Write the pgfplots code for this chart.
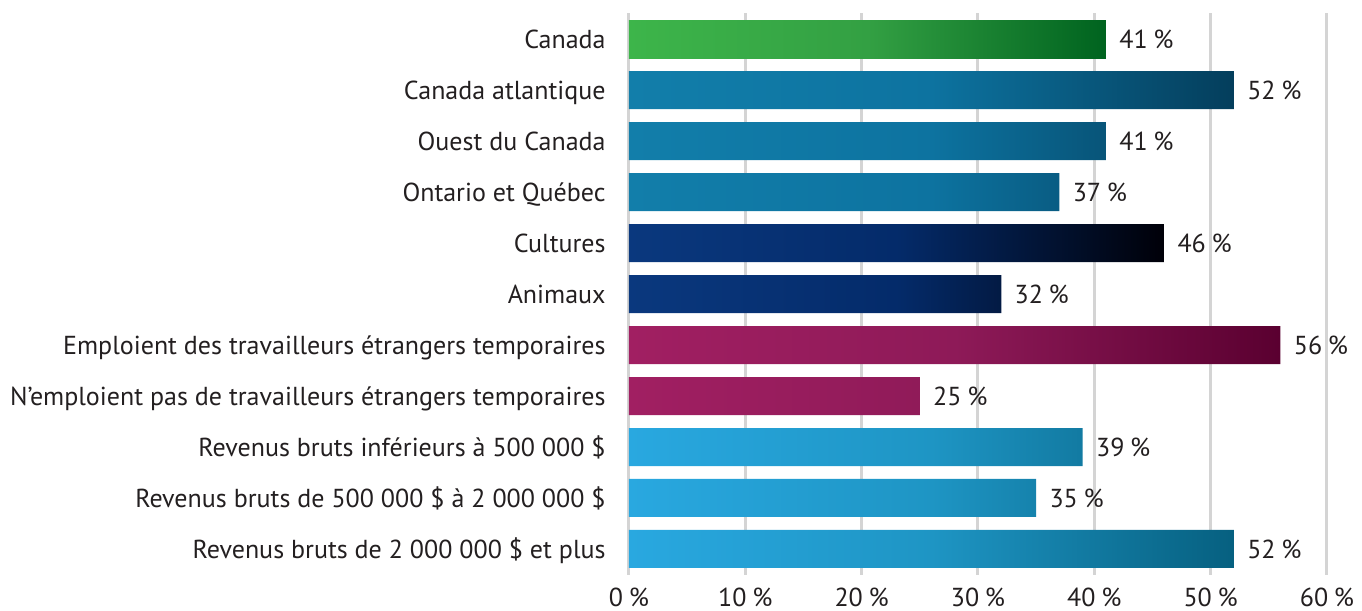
\documentclass[border=0pt]{standalone}
\usepackage{pgfplots}
\pgfplotsset{compat=1.18}
\usepackage{fontspec}
\setmainfont{PT Sans}
\definecolor{txt}{HTML}{231F20}
\definecolor{grd}{HTML}{D4D4D4}
\definecolor{gL}{HTML}{3DB54A}\definecolor{gM}{HTML}{33A043}\definecolor{gR}{HTML}{00631F}
\definecolor{tL}{HTML}{127EAA}\definecolor{tM}{HTML}{0D73A0}\definecolor{tR}{HTML}{043E5C}
\definecolor{nL}{HTML}{0A387E}\definecolor{nM}{HTML}{042B6A}\definecolor{nR}{HTML}{000008}
\definecolor{pL}{HTML}{A11F62}\definecolor{pM}{HTML}{8E1A58}\definecolor{pR}{HTML}{5A0030}
\definecolor{bL}{HTML}{29A8E0}\definecolor{bM}{HTML}{1E95C4}\definecolor{bR}{HTML}{066080}
\newcommand{\fs}{\fontsize{13pt}{15pt}\selectfont}
\begin{document}
\fs
\begin{tikzpicture}
\path[use as bounding box] (-314.5pt,-18pt) rectangle (366.5pt,287.5pt);
\begin{axis}[
  at={(0pt,0pt)}, anchor=south west,
  scale only axis, width=349pt, height=281pt,
  xmin=0, xmax=60, ymin=-0.51, ymax=10.51, y dir=reverse,
  xbar, bar width=19pt, bar shift=0pt,
  axis line style={draw=none},
  xtick={0,10,...,60}, ytick={0,...,10},
  major tick length=0pt,
  xmajorgrids, grid style={grd, line width=1.5pt},
  /pgf/number format/assume math mode=true,
  xticklabel={\pgfmathprintnumber{\tick}\hspace{0.22em}\%},
  xticklabel style={inner sep=0pt, anchor=north, yshift=-6.2pt, text=txt, font=\fs},
  yticklabel style={inner sep=0pt, anchor=base east, xshift=-11.5pt, yshift=-4.6pt, text=txt, font=\fs},
  yticklabels={Canada, Canada atlantique, Ouest du Canada, Ontario et Québec, Cultures, Animaux,
    Emploient des travailleurs étrangers temporaires,
    N’emploient pas de travailleurs étrangers temporaires,
    Revenus bruts inférieurs à 500~000~\$,
    Revenus bruts de 500~000~\$ à 2~000~000~\$,
    Revenus bruts de 2~000~000~\$ et plus},
  nodes near coords={\pgfmathprintnumber{\pgfplotspointmeta}\hspace{0.22em}\%},
  every node near coord/.append style={inner sep=0pt, anchor=base west, xshift=6.5pt, yshift=-4.6pt, text=txt, font=\fs},
]
\addplot[draw=none, left color=gL, right color=gR, middle color=gM] coordinates {(41,0)};
\addplot[draw=none, left color=tL, right color=tR, middle color=tM] coordinates {(52,1) (41,2) (37,3)};
\addplot[draw=none, left color=nL, right color=nR, middle color=nM] coordinates {(46,4) (32,5)};
\addplot[draw=none, left color=pL, right color=pR, middle color=pM] coordinates {(56,6) (25,7)};
\addplot[draw=none, left color=bL, right color=bR, middle color=bM] coordinates {(39,8) (35,9) (52,10)};
\end{axis}
\end{tikzpicture}
\end{document}
